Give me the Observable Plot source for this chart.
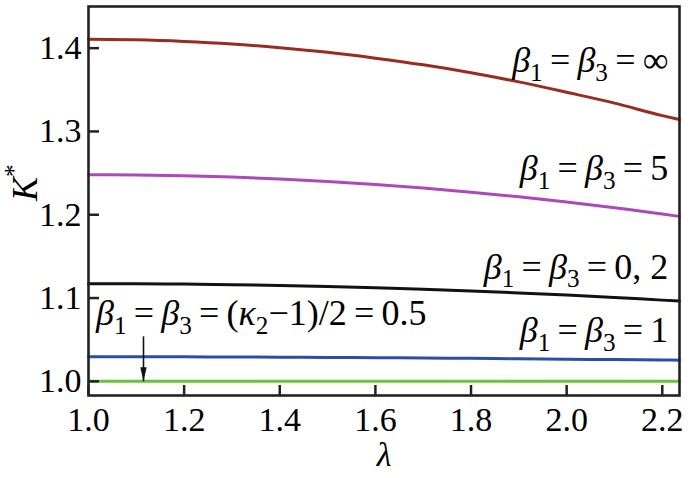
<!DOCTYPE html>
<html>
<head>
<meta charset="utf-8">
<script src="https://cdn.jsdelivr.net/npm/d3@7"></script>
<script src="https://cdn.jsdelivr.net/npm/@observablehq/plot@0.6"></script>
<style>
  html, body { margin: 0; padding: 0; background: #fff; }
  #chart svg { display: block; }
</style>
</head>
<body>
<div id="chart"></div>
<script>
// ---- data ----
const lambda = [1.0, 1.1, 1.2, 1.3, 1.4, 1.5, 1.6, 1.7, 1.8, 1.9, 2.0, 2.1, 2.2, 2.236];
const kInf  = [1.4106, 1.4100, 1.4081, 1.4050, 1.4005, 1.3950, 1.3880, 1.3800, 1.3705, 1.3595, 1.3470, 1.3340, 1.3190, 1.3142];
const k5    = [1.2481, 1.2478, 1.2468, 1.2452, 1.2428, 1.2399, 1.2363, 1.2320, 1.2271, 1.2216, 1.2153, 1.2085, 1.2010, 1.1980];
const k02   = [1.1173, 1.1172, 1.1168, 1.1161, 1.1151, 1.1139, 1.1124, 1.1106, 1.1086, 1.1062, 1.1036, 1.1007, 1.0975, 1.0964];
const k1    = [1.0295, 1.0295, 1.0294, 1.0292, 1.0290, 1.0287, 1.0284, 1.0280, 1.0276, 1.0271, 1.0266, 1.0261, 1.0256, 1.0254];
const kHalf = [1.0, 1.0, 1.0, 1.0, 1.0, 1.0, 1.0, 1.0, 1.0, 1.0, 1.0, 1.0, 1.0, 1.0];

const seriesNames  = ["half", "one", "zeroTwo", "five", "inf"];
const seriesValues = [kHalf, k1, k02, k5, kInf];
const seriesColors = ["#68c23e", "#2b4da6", "#111111", "#ad48bb", "#9a2b20"];

const xTicks = [1.0, 1.2, 1.4, 1.6, 1.8, 2.0, 2.2];
const yTicks = [1.0, 1.1, 1.2, 1.3, 1.4];

const labelTexts = ["β_1=β_3=∞", "β_1=β_3=5", "β_1=β_3=0, 2", "β_1=β_3=1", "β_1=β_3=(κ_2−1)/2=0.5"];
const labelX     = [2.2126, 2.2126, 2.2126, 2.2126, 1.0157];
const labelY     = [1.3853, 1.2557, 1.1369, 1.0612, 1.0816];
const labelAlign = ["end", "end", "end", "end", "start"];

const arrowX = 1.115, arrowFrom = 1.054, arrowTo = 1.0;

// ---- build tables ----
const rows = [];
seriesNames.forEach((name, s) => {
  lambda.forEach((l, i) => rows.push({series: name, lambda: l, k: seriesValues[s][i]}));
});
const labels = labelTexts.map((t, i) => ({text: t, x: labelX[i], y: labelY[i], align: labelAlign[i]}));

const FONT = "Liberation Serif";
const FS = 34;      // tick labels
const FA = 36;      // annotations
const W = 694, H = 478, ML = 88, MR = 15, MT = 6, MB = 83;

// narrow filled arrowhead whose tip sits on the anchor point
const arrowHead = {draw(context) {
  context.moveTo(0, 0); context.lineTo(-3.2, -14); context.lineTo(3.2, -14); context.closePath();
}};

const chart = Plot.plot({
  width: W,
  height: H,
  marginLeft: ML,
  marginRight: MR,
  marginTop: MT,
  marginBottom: MB,
  x: {domain: [1.0, 2.236]},
  y: {domain: [0.983, 1.45]},
  color: {domain: seriesNames, range: seriesColors},
  marks: [
    Plot.line(rows, {x: "lambda", y: "k", z: "series", stroke: "series", strokeWidth: 3, curve: "monotone-x"}),
    Plot.link([0], {x1: () => arrowX, x2: () => arrowX, y1: () => arrowFrom, y2: () => arrowTo,
      stroke: "#111", strokeWidth: 1.6}),
    Plot.dot([0], {x: () => arrowX, y: () => arrowTo, symbol: arrowHead, fill: "#111", stroke: "none", r: 5}),
    // inward tick marks
    Plot.tickY(yTicks, {y: d => d, insetRight: (W - ML - MR) - 11, stroke: "#222", strokeWidth: 2.5}),
    Plot.tickX(xTicks, {x: d => d, insetTop: (H - MT - MB) - 10, stroke: "#222", strokeWidth: 2.5}),
    Plot.axisY(yTicks, {tickSize: 0, tickPadding: 7, tickFormat: d3.format(".1f"),
      fontSize: FS, fontFamily: FONT, label: null}),
    Plot.axisX(xTicks, {tickSize: 0, tickPadding: 11, tickFormat: d3.format(".1f"),
      fontSize: FS, fontFamily: FONT, label: null}),
    Plot.text(labels.filter(d => d.align === "end"), {x: "x", y: "y", text: "text", textAnchor: "end",
      fontSize: FA, fontFamily: FONT}),
    Plot.text(labels.filter(d => d.align === "start"), {x: "x", y: "y", text: "text", textAnchor: "start",
      fontSize: FA, fontFamily: FONT}),
    Plot.text(["K^*"], {frameAnchor: "left", dx: -63, rotate: -90, text: d => d, fontSize: FA, fontFamily: FONT}),
    Plot.text(["λ"], {frameAnchor: "bottom", dy: 70, text: d => d, fontSize: 34, fontFamily: FONT}),
    Plot.frame({stroke: "#222", strokeWidth: 2.6})
  ]
});
chart.setAttribute("font-family", FONT);
document.getElementById("chart").appendChild(chart);

// ---- turn simple math strings into tspans ----
const NS = "http://www.w3.org/2000/svg";
function span(parent, txt, opts = {}) {
  const t = document.createElementNS(NS, "tspan");
  t.textContent = txt;
  if (opts.italic) t.setAttribute("font-style", "italic");
  if (opts.size) t.setAttribute("font-size", opts.size);
  if (opts.dy != null) t.setAttribute("dy", opts.dy);
  parent.appendChild(t);
  return t;
}
function mathify(el) {
  const s = el.textContent;
  el.textContent = "";
  let shift = 0;
  const subShift = FA * 0.24, supShift = FA * 0.42;
  for (let i = 0; i < s.length; i++) {
    const ch = s[i];
    if ((ch === "_" || ch === "^") && i + 1 < s.length) {
      const target = ch === "_" ? subShift : -supShift;
      span(el, s[i + 1], {size: FA * 0.7, dy: target - shift});
      shift = target;
      i++;
      continue;
    }
    const dy = shift !== 0 ? -shift : null;
    shift = 0;
    let txt = ch;
    const italic = /[A-Za-zβκλ]/.test(ch);
    if (ch === "=") txt = "\u2009=\u2009";
    span(el, txt, {italic, dy});
  }
}
d3.select(chart).selectAll("text").each(function () {
  const s = this.textContent;
  if (/[_^βλ]/.test(s) && this.children.length === 0) mathify(this);
});
</script>
</body>
</html>
